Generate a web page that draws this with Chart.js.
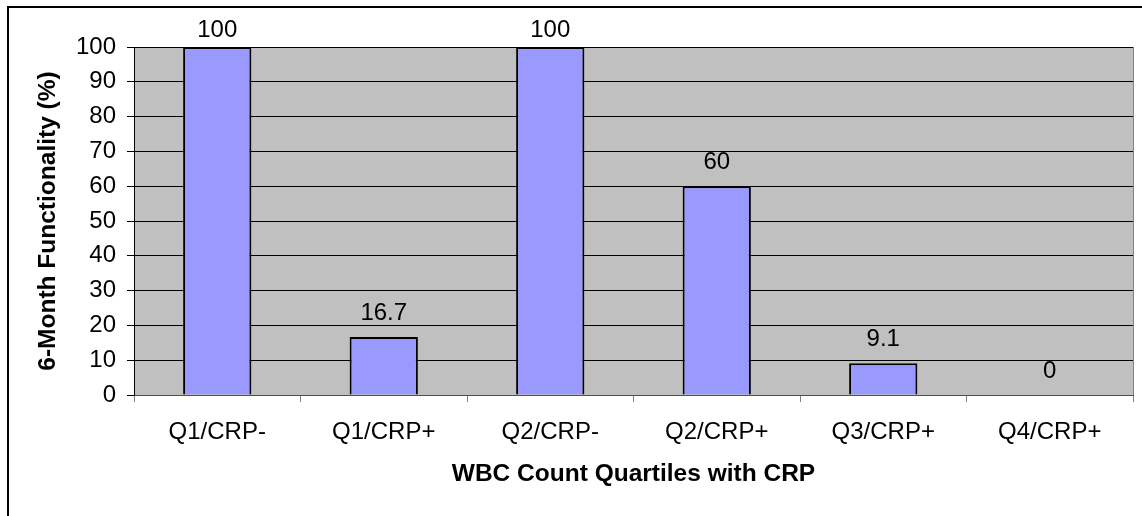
<!DOCTYPE html>
<html>
<head>
<meta charset="utf-8">
<script src="https://cdn.jsdelivr.net/npm/chart.js@4.4.0/dist/chart.umd.min.js"></script>
<style>
  html, body { margin: 0; padding: 0; background: #fff; }
  canvas { display: block; }
</style>
</head>
<body>
<canvas id="chart" width="1142" height="516"></canvas>
<script>
// datos
const categories = ['Q1/CRP-', 'Q1/CRP+', 'Q2/CRP-', 'Q2/CRP+', 'Q3/CRP+', 'Q4/CRP+'];
const functionality = [100, 16.7, 100, 60, 9.1, 0];
const yTicks = [0, 10, 20, 30, 40, 50, 60, 70, 80, 90, 100];

const FONT = '"Liberation Sans", Arial, sans-serif';

// fondo gris del área de trazado y marco exterior
const backgroundPlugin = {
    id: 'plotBackground',
    beforeDraw(chart) {
        const { ctx, chartArea } = chart;
        ctx.save();
        ctx.fillStyle = '#ffffff';
        ctx.fillRect(0, 0, chart.width, chart.height);
        ctx.fillStyle = '#C0C0C0';
        ctx.fillRect(chartArea.left, chartArea.top, chartArea.right - chartArea.left, chartArea.bottom - chartArea.top);
        ctx.strokeStyle = '#000';
        ctx.lineWidth = 2;
        ctx.strokeRect(8, 7, chart.width + 50, chart.height + 50);
        ctx.restore();
    },
    afterDraw(chart) {
        const { ctx, chartArea } = chart;
        ctx.save();
        ctx.strokeStyle = '#808080';
        ctx.lineWidth = 1;
        ctx.beginPath();
        ctx.moveTo(chartArea.right + 0.5, chartArea.top);
        ctx.lineTo(chartArea.right + 0.5, chartArea.bottom);
        ctx.stroke();
        ctx.restore();
    }
};

// etiquetas de valor encima de cada barra
const valueLabels = {
    id: 'valueLabels',
    afterDatasetsDraw(chart) {
        const { ctx } = chart;
        const meta = chart.getDatasetMeta(0);
        ctx.save();
        ctx.font = '24px ' + FONT;
        ctx.fillStyle = '#000';
        ctx.textAlign = 'center';
        ctx.textBaseline = 'middle';
        meta.data.forEach((bar, i) => {
            const y = Math.max(bar.y - 24, 30);
            ctx.fillText(String(functionality[i]), bar.x, y);
        });
        ctx.restore();
    }
};

new Chart(document.getElementById('chart').getContext('2d'), {
    type: 'bar',
    data: {
        labels: categories,
        datasets: [{
            data: functionality,
            backgroundColor: '#9999FF',
            borderColor: '#000',
            borderWidth: 2,
            borderSkipped: 'start',
            categoryPercentage: 1.0,
            barPercentage: 0.41,
        }],
    },
    options: {
        responsive: false,
        animation: false,
        layout: { padding: { top: 47, right: 9, left: 0, bottom: 0 } },
        plugins: {
            legend: { display: false },
            tooltip: { enabled: false },
        },
        scales: {
            x: {
                grid: {
                    display: true,
                    drawOnChartArea: false,
                    offset: true,
                    tickLength: 7,
                    color: '#808080',
                },
                border: { display: true, color: '#505050', width: 1 },
                ticks: {
                    color: '#000',
                    padding: 16,
                    font: { family: FONT, size: 24 },
                    maxRotation: 0,
                },
                title: {
                    display: true,
                    text: 'WBC Count Quartiles with CRP',
                    color: '#000',
                    font: { family: FONT, size: 24.5, weight: 'bold' },
                    padding: { top: 0, bottom: 27 },
                },
                afterFit(scale) { scale.height = 121; },
            },
            y: {
                min: 0,
                max: 100,
                afterBuildTicks(scale) { scale.ticks = yTicks.map(v => ({ value: v })); },
                grid: {
                    color: '#000',
                    lineWidth: 1,
                    tickLength: 7,
                    tickColor: '#000',
                },
                border: { display: true, color: '#000', width: 1 },
                ticks: {
                    color: '#000',
                    padding: 11,
                    font: { family: FONT, size: 24 },
                },
                title: {
                    display: true,
                    text: '6-Month Functionality (%)',
                    color: '#000',
                    font: { family: FONT, size: 24.5, weight: 'bold' },
                    padding: { top: 34, bottom: 0 },
                },
                afterFit(scale) { scale.width = 134; },
            },
        },
    },
    plugins: [backgroundPlugin, valueLabels],
});
</script>
</body>
</html>
